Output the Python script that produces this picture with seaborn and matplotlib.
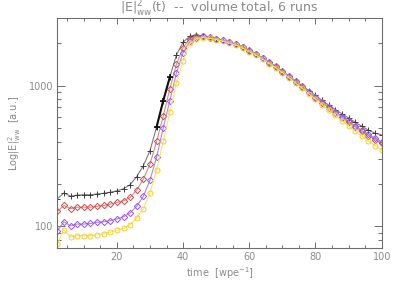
import numpy as np
import pandas as pd
import matplotlib
matplotlib.use("Agg")
import matplotlib.pyplot as plt
import seaborn as sns
from matplotlib.ticker import LogLocator, FixedLocator, NullFormatter, MultipleLocator

# ---- data ----
time = list(range(2, 101, 2))

run_black = [157, 173, 164, 167, 168, 168, 170, 172, 175, 179,
             185, 198, 226, 270, 345, 509, 779, 1150, 1650, 2030,
             2240, 2290, 2250, 2200, 2150, 2095, 2030, 1965, 1875, 1770,
             1675, 1568, 1460, 1370, 1262, 1168, 1075, 995, 920, 850,
             785, 725, 675, 630, 588, 548, 514, 482, 460, 445]

run_red = [128, 141, 134, 137, 137, 137, 139, 141, 144, 148,
           152, 161, 181, 217, 277, 402, 605, 950, 1415, 1860,
           2150, 2240, 2235, 2185, 2145, 2090, 2025, 1960, 1870, 1765,
           1670, 1562, 1452, 1360, 1252, 1155, 1060, 975, 895, 822,
           755, 695, 640, 592, 548, 508, 472, 442, 414, 390]

run_purple = [93, 108, 101, 104, 104, 105, 107, 108, 110, 113,
              117, 125, 139, 164, 213, 311, 500, 782, 1231, 1708,
              2064, 2185, 2230, 2195, 2155, 2100, 2035, 1970, 1880, 1775,
              1680, 1572, 1462, 1372, 1262, 1165, 1070, 985, 905, 832,
              766, 706, 652, 603, 558, 518, 482, 451, 423, 398]

run_yellow = [75, 95, 84, 86, 86, 86, 87, 89, 91, 94,
              97, 103, 115, 134, 174, 253, 402, 646, 1045, 1489,
              1988, 2147, 2190, 2160, 2120, 2065, 2000, 1935, 1845, 1740,
              1645, 1538, 1430, 1338, 1235, 1135, 1040, 955, 875, 800,
              732, 670, 613, 562, 516, 474, 437, 404, 375, 350]

seg_time = [32, 34, 36]
seg_black = [509, 779, 1150]

xticks = [20, 40, 60, 80, 100]
yticks = [100, 1000]
ytick_labels = ["100", "1000"]

# ---- style ----
sns.set_style("ticks")
plt.rcParams["font.family"] = ["DejaVu Sans"]
txt = "#8a8a8a"
axc = "#6e6e6e"

fig = plt.figure(figsize=(3.99, 2.85), dpi=100)
ax = fig.add_axes([57.3 / 399, 1 - 248.3 / 285, (381.7 - 57.3) / 399, (248.3 - 18.3) / 285])

series = [
    (run_black, "+", "#3a3a3a", "#7a7a7a", 4.5, 0.8),
    (run_red, "D", "#c8504e", "#d98a88", 3.2, 0.8),
    (run_purple, "D", "#9658e8", "#a988ee", 3.2, 0.8),
    (run_yellow, "o", "#f7cc2a", "#fbe36a", 3.6, 0.8),
]
for vals, mk, mcol, lcol, ms, lw in series:
    df = pd.DataFrame({"t": time, "v": vals})
    sns.lineplot(data=df, x="t", y="v", ax=ax, color=lcol, linewidth=lw,
                 marker=mk, markersize=ms, markerfacecolor="none",
                 markeredgecolor=mcol, markeredgewidth=0.7)

df_seg = pd.DataFrame({"t": seg_time, "v": seg_black})
sns.lineplot(data=df_seg, x="t", y="v", ax=ax, color="#111111", linewidth=1.5,
             marker="+", markersize=5, markeredgecolor="#111111", markeredgewidth=1.2)

ax.set_yscale("log")
ax.set_xlim(2, 100)
ax.set_ylim(70, 3000)

ax.xaxis.set_major_locator(FixedLocator(xticks))
ax.xaxis.set_minor_locator(MultipleLocator(5))
ax.yaxis.set_major_locator(FixedLocator(yticks))
ax.set_yticklabels(ytick_labels)
ax.yaxis.set_minor_locator(LogLocator(base=10, subs=np.arange(2, 10)))
ax.yaxis.set_minor_formatter(NullFormatter())

ax.tick_params(which="both", direction="in", top=True, right=True,
               colors=axc, labelcolor=txt, labelsize=7, width=0.7)
ax.tick_params(which="major", length=6, pad=3)
ax.tick_params(which="minor", length=3)
ax.tick_params(axis="x", which="major", length=4)
ax.tick_params(axis="x", which="minor", length=2)
for s in ax.spines.values():
    s.set_visible(True)
    s.set_color(axc)
    s.set_linewidth(0.8)

ax.set_xlabel(r"time  [wpe$^{-1}$]", color=txt, fontsize=7, labelpad=2)
ax.set_ylabel(r"Log$|$E$|^2_{\mathrm{ww}}$  [a.u.]", color=txt, fontsize=7, labelpad=4)
fig.text(219.5 / 399, 1 - 9 / 285, r"$|$E$|^2_{\mathrm{ww}}$(t)  --  volume total, 6 runs",
         ha="center", va="center", color=txt, fontsize=9)

fig.savefig("out.png", dpi=100)
